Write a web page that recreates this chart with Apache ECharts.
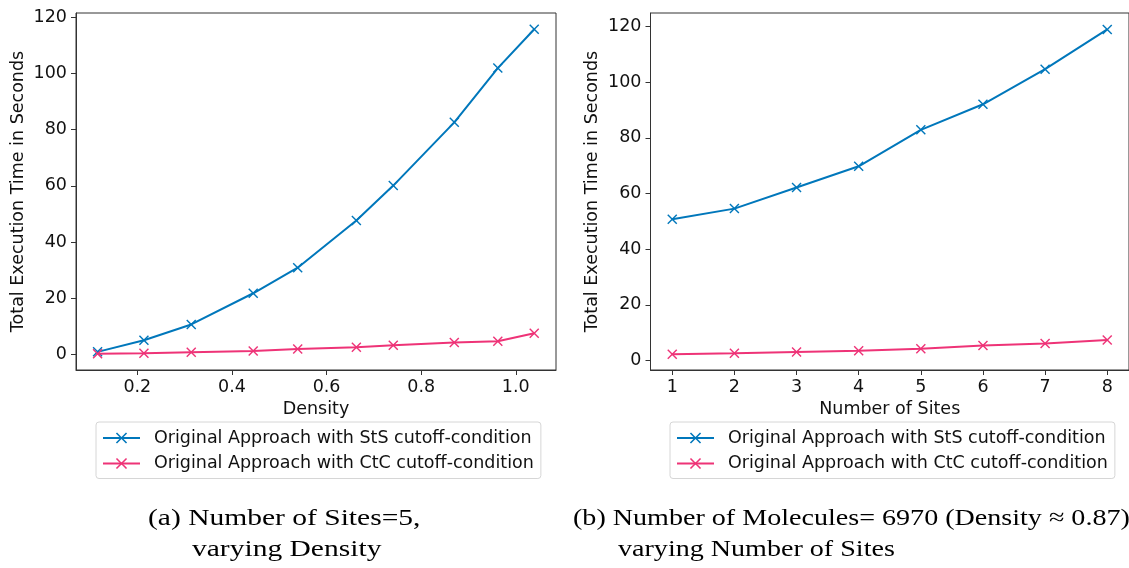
<!DOCTYPE html>
<html>
<head>
<meta charset="utf-8">
<script src="https://cdn.jsdelivr.net/npm/echarts@6/dist/echarts.min.js"></script>
<style>html,body{margin:0;padding:0;background:#fff;}#c{width:1129px;height:568px;}</style>
</head>
<body>
<div id="c"></div>
<script>
// ---- data ----
const density = [0.116, 0.214, 0.314, 0.445, 0.539, 0.663, 0.741, 0.870, 0.962, 1.039];
const stsByDensity = [0.95, 5.1, 10.7, 21.8, 30.9, 47.7, 60.1, 82.6, 101.9, 115.7];
const ctcByDensity = [0.24, 0.47, 0.83, 1.3, 2.0, 2.6, 3.3, 4.3, 4.7, 7.6];
const sites = [1, 2, 3, 4, 5, 6, 7, 8];
const stsBySites = [50.8, 54.6, 62.2, 69.8, 82.9, 92.1, 104.7, 119.0];
const ctcBySites = [2.3, 2.6, 3.1, 3.5, 4.2, 5.4, 6.1, 7.4];
const densityTicks = [0.2, 0.4, 0.6, 0.8, 1.0];
const siteTicks = [1, 2, 3, 4, 5, 6, 7, 8];
const timeTicks = [0, 20, 40, 60, 80, 100, 120];
const nameSts = 'Original Approach with StS cutoff-condition';
const nameCtc = 'Original Approach with CtC cutoff-condition';
const captionA = ['(a) Number of Sites=5,', 'varying Density'];
const captionB = ['(b) Number of Molecules= 6970 (Density \u2248 0.87)', 'varying Number of Sites'];

// ---- styling ----
const BLUE = '#0077BB', PINK = '#EE3377';
const AX = '#333';
const FS = 17.5;
const XSYM = 'path://M0,1L1,0L5,4L9,0L10,1L6,5L10,9L9,10L5,6L1,10L0,9L4,5Z';
const tickFont = {fontFamily: 'DejaVu Sans', fontSize: FS, color: '#111'};

function zip(xs, ys) { return xs.map((x, i) => [x, ys[i]]); }

function xAxis(idx, min, max, ticks, name, fmt) {
  return {
    type: 'value', gridIndex: idx, min: min, max: max,
    name: name, nameLocation: 'middle', nameGap: 30,
    nameTextStyle: {fontFamily: 'DejaVu Sans', fontSize: FS, color: '#111'},
    axisLine: {show: true, onZero: false, lineStyle: {color: AX, width: 1}},
    axisTick: {show: true, length: 5, customValues: ticks, lineStyle: {color: AX, width: 1}},
    axisLabel: Object.assign({customValues: ticks, margin: 8, formatter: fmt}, tickFont),
    splitLine: {show: false}
  };
}
function yAxis(idx, min, max) {
  return {
    type: 'value', gridIndex: idx, min: min, max: max,
    name: 'Total Execution Time in Seconds', nameLocation: 'middle', nameGap: 49,
    nameTextStyle: {fontFamily: 'DejaVu Sans', fontSize: FS, color: '#111'},
    axisLine: {show: true, lineStyle: {color: AX, width: 1}},
    axisTick: {show: true, length: 5, customValues: timeTicks, lineStyle: {color: AX, width: 1}},
    axisLabel: Object.assign({customValues: timeTicks, margin: 9}, tickFont),
    splitLine: {show: false}
  };
}
function line(name, color, idx, data, z) {
  return {
    type: 'line', name: name, xAxisIndex: idx, yAxisIndex: idx, data: data,
    symbol: XSYM, symbolSize: 10, showSymbol: true, z: z,
    lineStyle: {color: color, width: 2}, itemStyle: {color: color, borderWidth: 0},
    emphasis: {disabled: true}
  };
}
function legend(left) {
  return {
    left: left, top: 422, orient: 'vertical', padding: [7, 7, 6, 6], itemGap: 7.5,
    itemWidth: 37, itemHeight: 14, borderColor: '#d6d6d6', borderWidth: 1, borderRadius: 3,
    backgroundColor: '#fff',
    textStyle: {fontFamily: 'DejaVu Sans', fontSize: FS, color: '#111', padding: [0, 0, 0, 9]},
    data: [nameSts, nameCtc]
  };
}
function cap(x, y, text, sx) {
  return {type: 'text', x: x, y: y, scaleX: sx,
    style: {text: text, font: '24px "Liberation Serif"', fill: '#000', textAlign: 'left', textVerticalAlign: 'middle'}};
}

const chart = echarts.init(document.getElementById('c'), null, {renderer: 'canvas'});
chart.setOption({
  animation: false,
  backgroundColor: '#fff',
  grid: [
    {left: 76, top: 13, width: 480, height: 357, show: true, borderColor: AX, borderWidth: 1, backgroundColor: 'transparent'},
    {left: 650.5, top: 13, width: 480, height: 357, show: true, borderColor: AX, borderWidth: 1, backgroundColor: 'transparent'}
  ],
  xAxis: [
    xAxis(0, 0.0704, 1.085, densityTicks, 'Density', v => v.toFixed(1)),
    xAxis(1, 0.65, 8.35, siteTicks, 'Number of Sites', v => String(v))
  ],
  yAxis: [yAxis(0, -5.5, 121.5), yAxis(1, -3.4, 124.9)],
  legend: [legend(96), legend(670)],
  series: [
    line(nameSts, BLUE, 0, zip(density, stsByDensity), 2),
    line(nameCtc, PINK, 0, zip(density, ctcByDensity), 3),
    line(nameSts, BLUE, 1, zip(sites, stsBySites), 2),
    line(nameCtc, PINK, 1, zip(sites, ctcBySites), 3)
  ],
  graphic: [
    cap(148, 519, captionA[0], 1.23),
    cap(192, 550, captionA[1], 1.23),
    cap(573, 519, captionB[0], 1.17),
    cap(618, 550, captionB[1], 1.17)
  ]
});
</script>
</body>
</html>
